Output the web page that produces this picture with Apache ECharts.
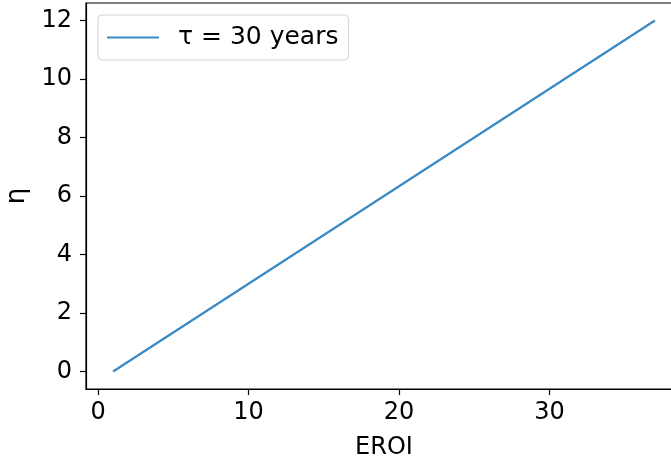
<!DOCTYPE html>
<html>
<head>
<meta charset="utf-8">
<script src="https://cdn.jsdelivr.net/npm/echarts@6/dist/echarts.min.js"></script>
<style>
  html, body { margin: 0; padding: 0; background: #fff; }
  #chart { width: 671px; height: 462px; }
</style>
</head>
<body>
<div id="chart"></div>
<script>
// Net energy ratio η against EROI for a 30-year lifetime
const eroi = [1, 10, 19, 28, 37];
const eta = [0, 3, 6, 9, 12];
const seriesName = 'τ = 30 years';
const xTicks = [0, 10, 20, 30];
const yTicks = [0, 2, 4, 6, 8, 10, 12];

const font = 'DejaVu Sans';
const chart = echarts.init(document.getElementById('chart'));

chart.setOption({
  animation: false,
  backgroundColor: '#fff',
  grid: {
    left: 86, top: 3, height: 386, width: 596,
    containLabel: false,
    outerBoundsMode: 'none',
    show: true, borderColor: '#000', borderWidth: 1.2, backgroundColor: 'transparent'
  },
  legend: {
    left: 98, top: 15,
    orient: 'vertical',
    padding: [10, 10, 10, 9],
    borderColor: '#d4d4d4', borderWidth: 1, borderRadius: 4,
    backgroundColor: 'rgba(255,255,255,0.8)',
    itemWidth: 52, itemHeight: 2, itemGap: 10,
    icon: 'rect',
    textStyle: { fontFamily: font, fontSize: 25, color: '#000', padding: [0, 0, 0, 14] },
    data: [seriesName]
  },
  xAxis: {
    type: 'value',
    min: -0.8, max: 38.8,
    name: 'EROI', nameLocation: 'middle', nameGap: 47,
    nameTextStyle: { fontFamily: font, fontSize: 24, color: '#000' },
    axisLine: { show: true, onZero: false, lineStyle: { color: '#000', width: 1.2 } },
    axisTick: { show: true, length: 6, lineStyle: { color: '#000', width: 1.2 },
      customValues: xTicks },
    axisLabel: { fontFamily: font, fontSize: 24, color: '#000', margin: 12,
      customValues: xTicks },
    splitLine: { show: false }
  },
  yAxis: {
    type: 'value',
    min: -0.6, max: 12.6,
    name: 'η', nameLocation: 'middle', nameGap: 53, nameRotate: 90,
    nameTextStyle: { fontFamily: font, fontSize: 26, color: '#000' },
    axisLine: { show: true, onZero: false, lineStyle: { color: '#000', width: 1.2 } },
    axisTick: { show: true, length: 6, lineStyle: { color: '#000', width: 1.2 },
      customValues: yTicks },
    axisLabel: { fontFamily: font, fontSize: 24, color: '#000', margin: 14,
      customValues: yTicks },
    splitLine: { show: false }
  },
  series: [{
    name: seriesName,
    type: 'line',
    data: eroi.map((x, i) => [x, eta[i]]),
    showSymbol: false,
    symbol: 'none',
    color: '#3a8ac4',
    lineStyle: { color: '#3a8ac4', width: 2.2 }
  }]
});
</script>
</body>
</html>
